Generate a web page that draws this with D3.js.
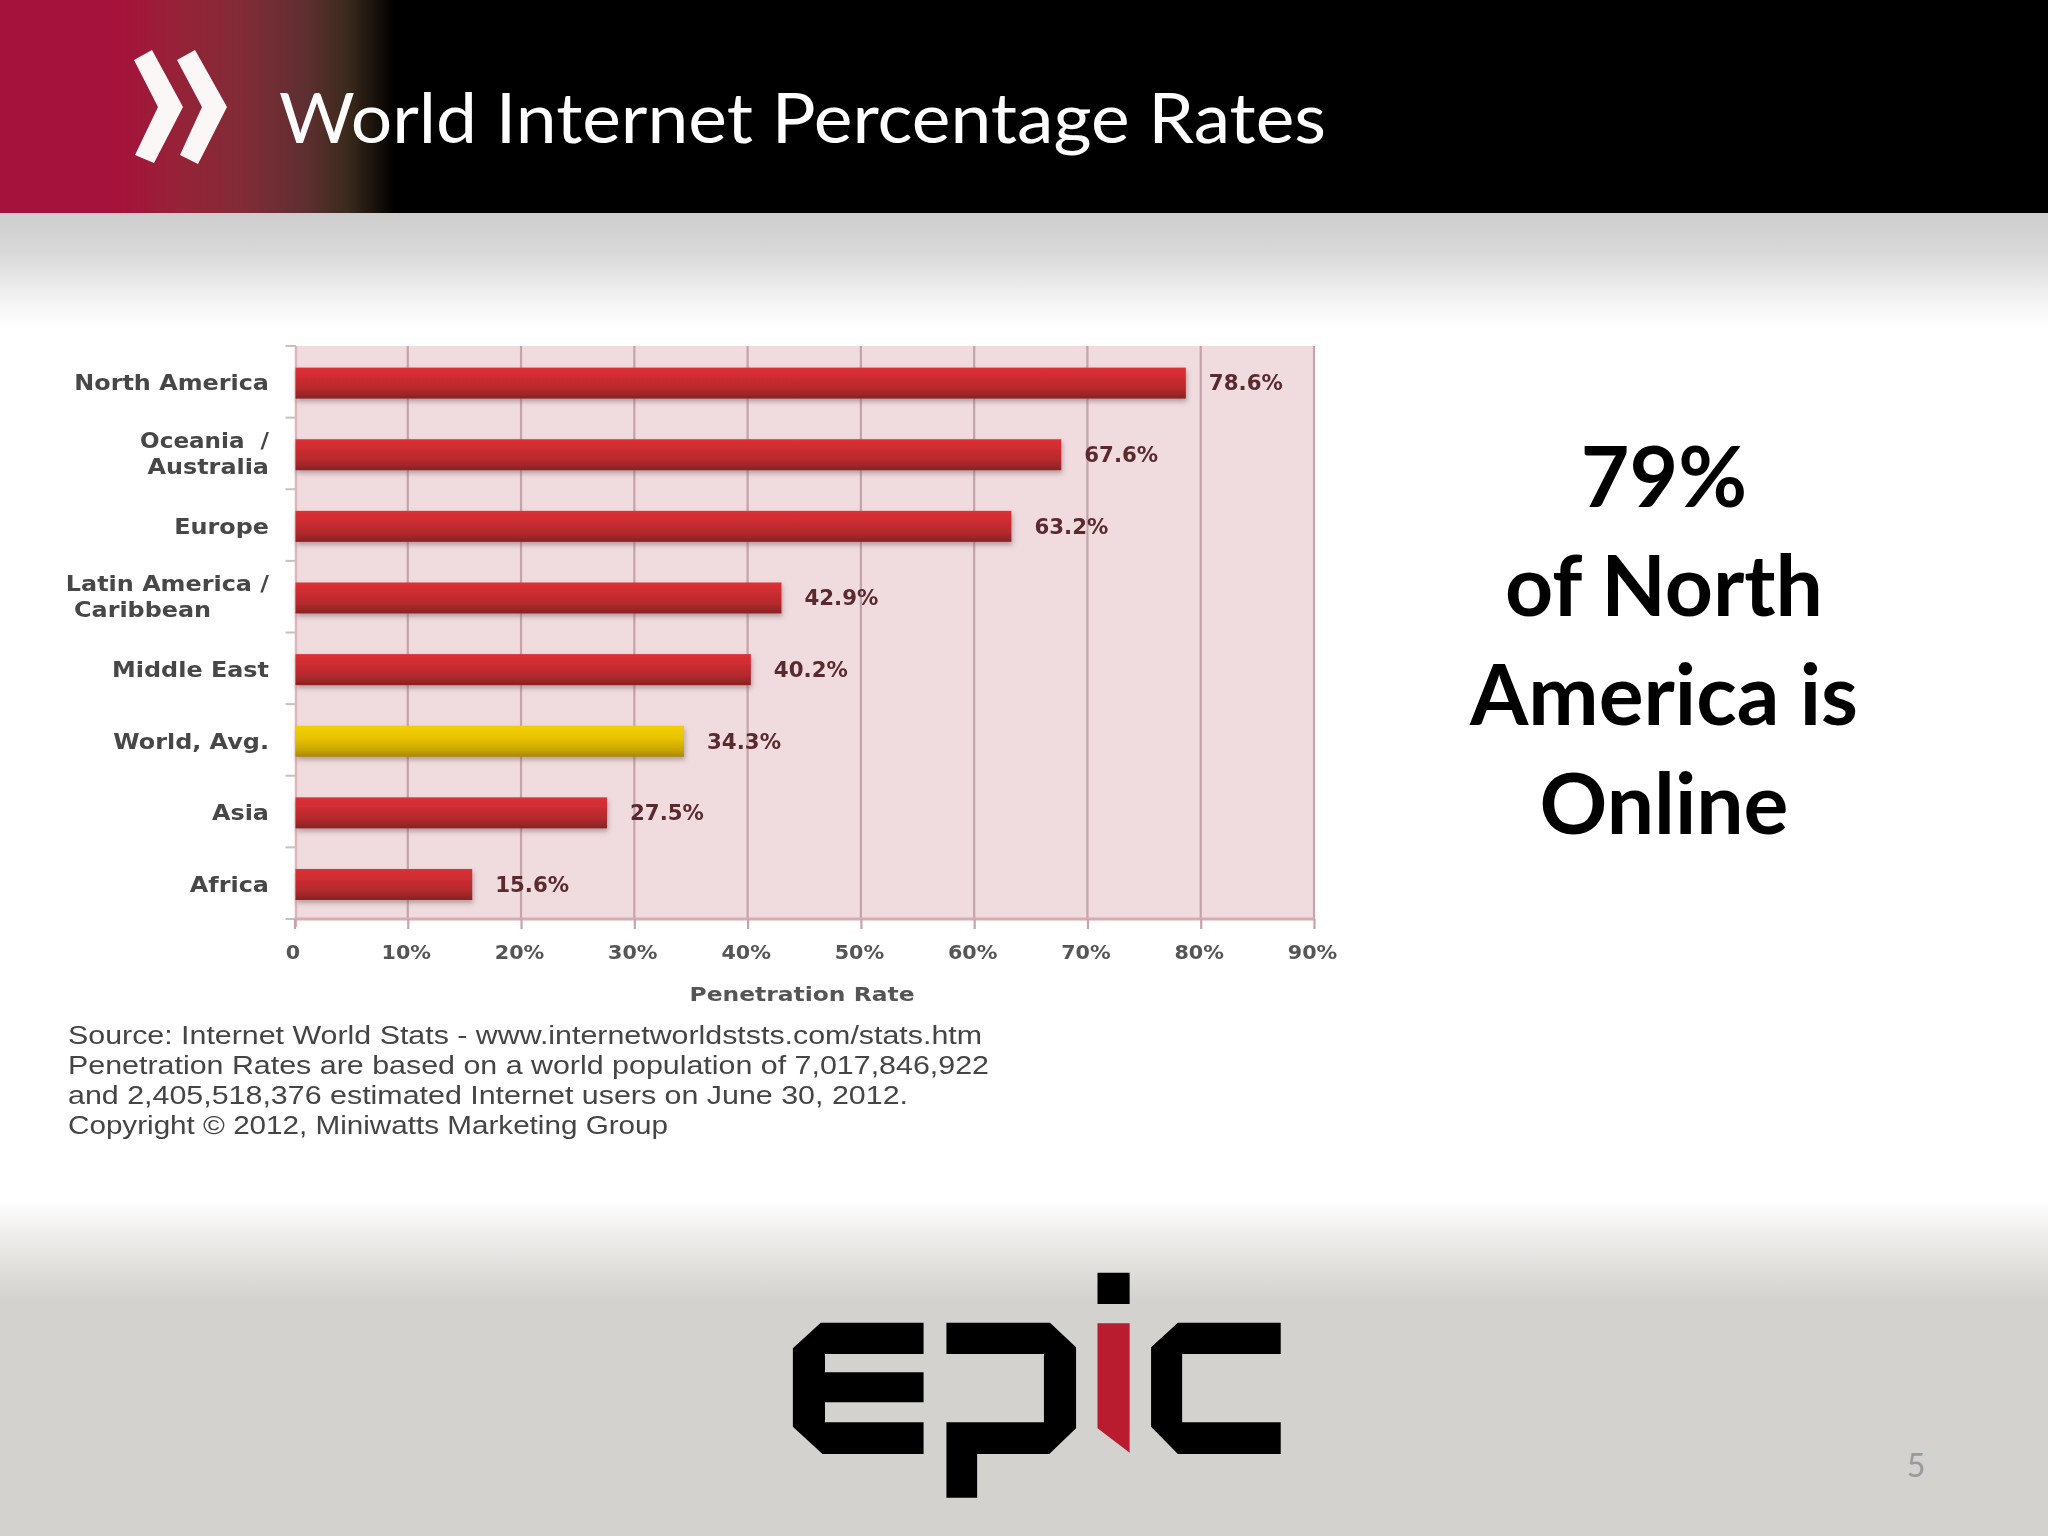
<!DOCTYPE html>
<html><head><meta charset="utf-8">
<script src="https://cdnjs.cloudflare.com/ajax/libs/d3/7.8.5/d3.min.js"></script>
<style>html,body{margin:0;padding:0;background:#fff}svg{display:block}</style>
</head><body>
<svg id="c" width="2048" height="1536" viewBox="0 0 2048 1536"></svg>
<script>
const categories = ["North America","Oceania / Australia","Europe","Latin America / Caribbean","Middle East","World, Avg.","Asia","Africa"];
const categoryLines = [["North America"],["Oceania  /","Australia"],["Europe"],["Latin America /","Caribbean"],["Middle East"],["World, Avg."],["Asia"],["Africa"]];
const values = [78.6,67.6,63.2,42.9,40.2,34.3,27.5,15.6];
const highlighted = ["World, Avg."];
const xTicks = [0,10,20,30,40,50,60,70,80,90];
const titleText = "World Internet Percentage Rates";
const axisTitle = "Penetration Rate";
const sourceLines = ["Source: Internet World Stats - www.internetworldststs.com/stats.htm",
 "Penetration Rates are based on a world population of 7,017,846,922",
 "and 2,405,518,376 estimated Internet users on June 30, 2012.",
 "Copyright \u00A9 2012, Miniwatts Marketing Group"];
const calloutLines = ["79%","of North","America is","Online"];
const pageNumber = "5";

const svg = d3.select("#c");
const defs = svg.append("defs");
function grad(id, stops, horiz){
  const g = defs.append("linearGradient").attr("id",id).attr("x1",0).attr("y1",0).attr("x2",horiz?1:0).attr("y2",horiz?0:1);
  stops.forEach(s=>g.append("stop").attr("offset",s[0]).attr("stop-color",s[1]));
}
grad("hdr",[[0,"#a5123b"],[0.3,"#a5123b"],[0.45,"#962238"],[0.62,"#802c37"],[0.78,"#5c2f30"],[0.88,"#3a2a1c"],[1,"#000"]],true);
grad("top",[[0,"#cecdce"],[0.35,"#dad9d9"],[0.75,"#f4f4f4"],[1,"#fff"]]);
grad("bot",[[0,"#fff"],[0.4,"#ecebe9"],[1,"#d3d2ce"]]);
grad("red",[[0,"#dc3036"],[0.3,"#cf2d32"],[0.7,"#b2292c"],[1,"#882224"]]);
grad("gold",[[0,"#f2cf00"],[0.4,"#e8c400"],[0.8,"#c8a400"],[1,"#a58800"]]);
const blur = defs.append("filter").attr("id","soft").attr("x","-2%").attr("y","-2%").attr("width","104%").attr("height","104%");
blur.append("feGaussianBlur").attr("stdDeviation",0.7);
const shadow = defs.append("filter").attr("id","shadow").attr("x","-5%").attr("y","-30%").attr("width","110%").attr("height","180%");
shadow.append("feDropShadow").attr("dx",1).attr("dy",3).attr("stdDeviation",2.5).attr("flood-color","#7a5a5a").attr("flood-opacity",0.5);

// stretch helper: the reference's labels are set in a wider face than DejaVu Bold
function stretch(sel,k){
  sel.each(function(){
    const n=this; n.setAttribute("textLength",n.getComputedTextLength()*k);
    n.setAttribute("lengthAdjust","spacingAndGlyphs");
  });
  return sel;
}

// slide background
svg.append("rect").attr("width",2048).attr("height",1536).attr("fill","#fff");
svg.append("rect").attr("y",213).attr("width",2048).attr("height",117).attr("fill","url(#top)");
svg.append("rect").attr("y",1200).attr("width",2048).attr("height",100).attr("fill","url(#bot)");
svg.append("rect").attr("y",1300).attr("width",2048).attr("height",236).attr("fill","#d3d2ce");
svg.append("rect").attr("width",2048).attr("height",213).attr("fill","#000");
svg.append("rect").attr("width",395).attr("height",213).attr("fill","url(#hdr)");
const pts = a => a.map(p=>p.join(",")).join(" ");
[[[134,60],[152,50],[183,107],[154,163],[135,155],[158,107]],[[177,60],[195,50],[227,107],[198,164],[180,155],[202,107]]]
  .forEach(p=>svg.append("polygon").attr("points",pts(p)).attr("fill","#fbf7f7").attr("filter","url(#soft)"));
svg.append("text").attr("x",279).attr("y",143).attr("font-family","Lato").attr("font-size",70).attr("fill","#fff")
  .attr("textLength",1047).attr("lengthAdjust","spacingAndGlyphs").text(titleText);

// chart
const margin = {left:294.5,right:1314,top:346,bottom:919};
const x = d3.scaleLinear().domain([0,90]).range([margin.left,margin.right]);
const y = d3.scaleBand().domain(categories).range([margin.top,margin.bottom]);
const barH = 31, rowShift = 1.3;
const chart = svg.append("g").attr("filter","url(#soft)");
chart.append("rect").attr("x",margin.left+1.5).attr("y",margin.top).attr("width",margin.right-margin.left-1.5).attr("height",margin.bottom-margin.top).attr("fill","#f0dcdf");
chart.selectAll("line.grid").data(xTicks.slice(1)).join("line").attr("class","grid")
  .attr("x1",d=>x(d)).attr("x2",d=>x(d)).attr("y1",margin.top).attr("y2",margin.bottom)
  .attr("stroke","#c4a3aa").attr("stroke-width",2.2);
const catAxis = d3.scalePoint().domain(d3.range(categories.length+1)).range([margin.top,margin.bottom]);
chart.selectAll("line.ytick").data(catAxis.domain()).join("line").attr("class","ytick")
  .attr("x1",margin.left-9).attr("x2",margin.left+1.5).attr("y1",d=>catAxis(d)).attr("y2",d=>catAxis(d))
  .attr("stroke","#c9c0c0").attr("stroke-width",2);
chart.append("line").attr("x1",margin.left+1.5).attr("x2",margin.left+1.5).attr("y1",margin.top).attr("y2",margin.bottom+8).attr("stroke","#d9b7bc").attr("stroke-width",2.5);
chart.append("line").attr("x1",margin.left).attr("x2",margin.right).attr("y1",margin.bottom).attr("y2",margin.bottom).attr("stroke","#dba9b0").attr("stroke-width",3);

const xAxis = d3.axisBottom(x).tickValues(xTicks).tickFormat(d=>d===0?"0":d+"%").tickSize(10).tickPadding(16);
const xg = chart.append("g").attr("transform",`translate(0,${margin.bottom})`).call(xAxis);
xg.select(".domain").remove();
xg.selectAll(".tick line").attr("stroke","#c4a3aa").attr("stroke-width",2.2);
stretch(xg.selectAll(".tick text").attr("font-family","DejaVu Sans").attr("font-weight","bold").attr("font-size",19.5).attr("fill","#555").attr("dx",-2),1.06);

chart.selectAll("rect.bar").data(values).join("rect").attr("class","bar")
  .attr("x",x(0)+1).attr("width",d=>x(d)-x(0))
  .attr("y",(d,i)=>y(categories[i])+(y.bandwidth()-barH)/2+rowShift).attr("height",barH)
  .attr("fill",(d,i)=>highlighted.includes(categories[i])?"url(#gold)":"url(#red)")
  .attr("filter","url(#shadow)");
stretch(chart.selectAll("text.val").data(values).join("text").attr("class","val")
  .attr("x",d=>x(d)+24).attr("y",(d,i)=>y(categories[i])+y.bandwidth()/2+rowShift).attr("dy","0.36em")
  .attr("font-family","DejaVu Sans").attr("font-weight","bold").attr("font-size",20.5).attr("fill","#5a2a2f")
  .text(d=>d.toFixed(1)+"%"),1.04);
categoryLines.forEach((lines,i)=>{
  const cy = y(categories[i])+y.bandwidth()/2+rowShift;
  lines.forEach((t,j)=>{
    const off = (j-(lines.length-1)/2)*25.5;
    const left = t==="Caribbean";
    const lab = chart.append("text").attr("x",left?74:269).attr("y",cy+off-(lines.length>1?1.3:0)).attr("dy","0.36em")
      .attr("text-anchor",left?"start":"end").attr("font-family","DejaVu Sans").attr("font-weight","bold")
      .attr("font-size",20.5).attr("fill","#474747").style("white-space","pre").text(t);
    stretch(lab,t.startsWith("Oceania")?1.125:1.165);
  });
});
stretch(chart.append("text").attr("x",802).attr("y",994).attr("dy","0.36em").attr("text-anchor","middle")
  .attr("font-family","DejaVu Sans").attr("font-weight","bold").attr("font-size",20).attr("fill","#555").text(axisTitle),1.17);
const srcWidths = [914,921,840,600];
chart.selectAll("text.src").data(sourceLines).join("text").attr("class","src")
  .attr("x",68).attr("y",(d,i)=>1044+i*30).attr("font-family","Liberation Sans").attr("font-size",25).attr("fill","#444")
  .attr("textLength",(d,i)=>srcWidths[i]).attr("lengthAdjust","spacingAndGlyphs").text(d=>d);

// callout
svg.selectAll("text.call").data(calloutLines).join("text").attr("class","call")
  .attr("x",1664).attr("y",(d,i)=>507+i*109).attr("text-anchor","middle")
  .attr("font-family","Lato").attr("font-weight","bold").attr("font-size",84).attr("fill","#000").text(d=>d);

// logo
const lx = v=>760+v/2.8, ly = v=>1240+v/3;
const logo = svg.append("g").attr("filter","url(#soft)");
const shape = (a,fill)=>logo.append("polygon").attr("points",a.map(p=>[lx(p[0]),ly(p[1])].join(",")).join(" ")).attr("fill",fill);
shape([[92,325],[170,248],[458,248],[458,342],[182,342],[182,397],[458,397],[458,487],[182,487],[182,547],[458,547],[458,642],[175,642],[92,560]],"#000");
shape([[522,248],[812,248],[885,322],[885,565],[810,642],[608,642],[608,773],[522,773],[522,547],[795,547],[795,342],[522,342]],"#000");
shape([[945,98],[1035,98],[1035,192],[945,192]],"#000");
shape([[945,250],[1035,250],[1035,638],[945,565]],"#b91c2e");
shape([[1095,322],[1170,248],[1458,248],[1458,342],[1182,342],[1182,547],[1458,547],[1458,642],[1170,642],[1095,560]],"#000");

svg.append("text").attr("x",1916).attr("y",1477).attr("text-anchor","middle").attr("font-family","Lato").attr("font-size",32).attr("fill","#9a9a9a").text(pageNumber);
</script>
</body></html>
